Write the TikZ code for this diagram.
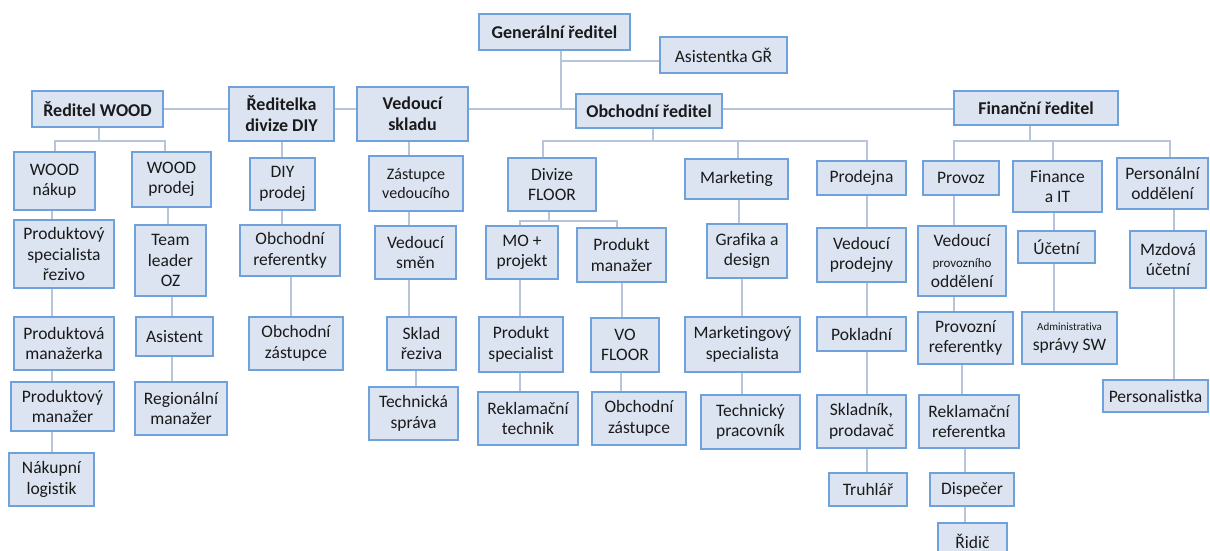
\documentclass[tikz,border=0pt]{standalone}
\usepackage{fontspec}
\setmainfont{Carlito}[Ligatures=NoCommon]
\usetikzlibrary{backgrounds}
\definecolor{boxfill}{HTML}{DCE4F2}
\definecolor{boxline}{HTML}{6FA2DA}
\definecolor{linkc}{HTML}{B8C4DA}
\definecolor{txt}{HTML}{1A1A1A}
\tikzset{
  box/.style={draw=boxline, fill=boxfill, line width=1.4pt, inner sep=1pt, align=center,
    font=\fontsize{17.5}{20.5}\selectfont, text=txt},
  bbox/.style={box, font=\bfseries\fontsize{18}{21}\selectfont},
  sbox/.style={box, font=\fontsize{16}{19}\selectfont},
  link/.style={draw=linkc, line width=1.3pt}
}
\newcommand\obox[7][box]{\node[#1, minimum width={#5-#3}, minimum height={#6-#4}] (#2) at ({(#3+#5)/2},{(#4+#6)/2}) {#7};}
\newcommand\vl[3]{\draw[link] (#1.south -| #3,0) -- (#2.north -| #3,0);}
\begin{document}
\begin{tikzpicture}[x=1pt,y=-1pt]
\useasboundingbox (0,0) rectangle (1210,551);
\clip (0,0) rectangle (1210,551);
% top level
\obox[bbox]{gr}{479}{14}{630}{50}{Generální ředitel}
\obox{as}{660}{37}{787}{73}{Asistentka GŘ}
\obox[bbox]{rw}{32}{91}{163}{127}{Ředitel WOOD}
\obox[bbox]{diy}{229}{87}{334}{141}{Ředitelka\\divize DIY}
\obox[bbox]{vs}{357}{87}{468}{141}{Vedoucí\\skladu}
\obox[bbox]{or}{576}{94}{722}{128}{Obchodní ředitel}
\obox[bbox]{fr}{954}{91}{1118}{125}{Finanční ředitel}
% second level
\obox{wn}{14}{152}{95}{210}{WOOD\\nákup}
\obox{wp}{132}{152}{211}{207}{WOOD\\prodej}
\obox{dp}{250}{158}{315}{210}{DIY\\prodej}
\obox[sbox]{zv}{369}{156}{463}{211}{Zástupce\\vedoucího}
\obox{df}{508}{158}{596}{211}{Divize\\FLOOR}
\obox{mk}{685}{159}{788}{199}{Marketing}
\obox{pj}{817}{161}{906}{195}{Prodejna}
\obox{pv}{923}{161}{999}{195}{Provoz}
\obox{fi}{1013}{161}{1102}{212}{Finance\\a IT}
\obox{po}{1117}{158}{1208}{209}{Personální\\oddělení}
% third level
\obox{ps}{14}{220}{114}{288}{Produktový\\specialista\\řezivo}
\obox{tl}{135}{225}{206}{296}{Team\\leader\\OZ}
\obox{ob}{240}{225}{340}{276}{Obchodní\\referentky}
\obox{vsm}{375}{226}{456}{279}{Vedoucí\\směn}
\obox{mo}{486}{226}{558}{279}{MO +\\projekt}
\obox{pm}{577}{228}{666}{282}{Produkt\\manažer}
\obox{gd}{707}{224}{787}{278}{Grafika a\\design}
\obox{vp}{817}{228}{906}{282}{Vedoucí\\prodejny}
\obox{vpo}{918}{226}{1006}{296}{Vedoucí\\{\fontsize{13}{15}\selectfont provozního}\\oddělení}
\obox{uc}{1018}{231}{1095}{263}{Účetní}
\obox{mu}{1130}{231}{1206}{288}{Mzdová\\účetní}
% fourth level
\obox{pma}{14}{317}{114}{370}{Produktová\\manažerka}
\obox{asi}{136}{317}{213}{356}{Asistent}
\obox{oz1}{249}{317}{343}{370}{Obchodní\\zástupce}
\obox{sr}{387}{317}{456}{370}{Sklad\\řeziva}
\obox{psp}{479}{317}{563}{372}{Produkt\\specialist}
\obox{vo}{591}{318}{659}{372}{VO\\FLOOR}
\obox{ms}{685}{317}{800}{372}{Marketingový\\specialista}
\obox{pok}{817}{317}{906}{351}{Pokladní}
\obox{pr}{918}{312}{1013}{364}{Provozní\\referentky}
\obox{adm}{1022}{312}{1117}{364}{{\fontsize{11}{13}\selectfont Administrativa}\\správy SW}
% fifth level
\obox{pmz}{11}{382}{114}{431}{Produktový\\manažer}
\obox{rm}{135}{382}{227}{435}{Regionální\\manažer}
\obox{ts}{369}{387}{458}{440}{Technická\\správa}
\obox{rt}{478}{392}{578}{445}{Reklamační\\technik}
\obox{oz2}{592}{392}{686}{445}{Obchodní\\zástupce}
\obox{tp}{701}{395}{800}{449}{Technický\\pracovník}
\obox{sp}{817}{395}{906}{448}{Skladník,\\prodavač}
\obox{rr}{919}{395}{1019}{448}{Reklamační\\referentka}
\obox{pl}{1103}{380}{1208}{412}{Personalistka}
% sixth and seventh level
\obox{nl}{9}{453}{94}{506}{Nákupní\\logistik}
\obox{tr}{829}{473}{907}{506}{Truhlář}
\obox{di}{930}{473}{1014}{506}{Dispečer}
\obox{ri}{938}{523}{1007}{560}{Řidič}
% connectors
\coordinate (gj) at (561,109);
\coordinate (ga) at (561,61);
\coordinate (wj) at (99,141);
\coordinate (oj) at (653,141);
\coordinate (fj) at (1030,141);
\coordinate (flj) at (549,221);
\begin{scope}[on background layer]
\draw[link] (rw.east |- 0,109) -- (diy.west |- 0,109);
\draw[link] (diy.east |- 0,109) -- (vs.west |- 0,109);
\draw[link] (vs.east |- 0,109) -- (or.west |- 0,109);
\draw[link] (or.east |- 0,109) -- (fr.west |- 0,109);
\draw[link] (gr.south -| gj) -- (gj);
\draw[link] (ga) -- (as.west |- ga);
\draw[link] (rw.south -| wj) -- (wj);
\draw[link] (wn.north -| 55,0) |- (wj) -| (wp.north -| 165,0);
\draw[link] (or.south -| oj) -- (oj);
\draw[link] (df.north -| 543,0) |- (oj) -| (pj.north -| 867,0);
\draw[link] (mk.north -| 738,0) |- (oj);
\draw[link] (fr.south -| fj) -- (fj);
\draw[link] (pv.north -| 954,0) |- (fj) -| (po.north -| 1170,0);
\draw[link] (fi.north -| 1053,0) |- (fj);
\draw[link] (df.south -| flj) -- (flj);
\draw[link] (mo.north -| 520,0) |- (flj) -| (pm.north -| 617,0);
\vl{wn}{ps}{52} \vl{ps}{pma}{52} \vl{pma}{pmz}{52} \vl{pmz}{nl}{52}
\vl{wp}{tl}{168} \vl{tl}{asi}{172} \vl{asi}{rm}{172}
\vl{diy}{dp}{282} \vl{dp}{ob}{282} \vl{ob}{oz1}{291}
\vl{vs}{zv}{409} \vl{zv}{vsm}{409} \vl{vsm}{sr}{409} \vl{sr}{ts}{416}
\vl{mo}{psp}{520} \vl{psp}{rt}{520}
\vl{pm}{vo}{622} \vl{vo}{oz2}{621}
\vl{mk}{gd}{739} \vl{gd}{ms}{742} \vl{ms}{tp}{742}
\vl{pj}{vp}{867} \vl{vp}{pok}{867} \vl{pok}{sp}{867} \vl{sp}{tr}{867}
\vl{pv}{vpo}{954} \vl{vpo}{pr}{954} \vl{pr}{rr}{962} \vl{rr}{di}{965} \vl{di}{ri}{965}
\vl{fi}{uc}{1054} \vl{uc}{adm}{1054}
\vl{po}{mu}{1174} \vl{mu}{pl}{1174}
\end{scope}
\end{tikzpicture}
\end{document}
